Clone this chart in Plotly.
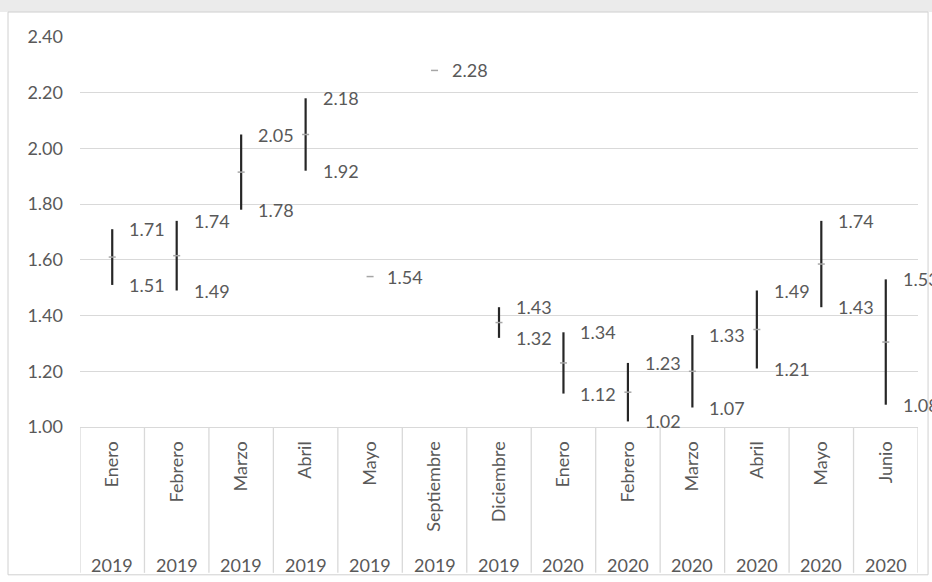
import plotly.graph_objects as go

months = ["Enero", "Febrero", "Marzo", "Abril", "Mayo", "Septiembre", "Diciembre",
          "Enero", "Febrero", "Marzo", "Abril", "Mayo", "Junio"]
years = ["2019", "2019", "2019", "2019", "2019", "2019", "2019",
         "2020", "2020", "2020", "2020", "2020", "2020"]
highs = [1.71, 1.74, 2.05, 2.18, 1.54, 2.28, 1.43, 1.34, 1.23, 1.33, 1.49, 1.74, 1.53]
lows = [1.51, 1.49, 1.78, 1.92, None, None, 1.32, 1.12, 1.02, 1.07, 1.21, 1.43, 1.08]
mids = [1.61, 1.615, 1.915, 2.05, 1.54, 2.28, 1.375, 1.23, 1.125, 1.20, 1.35, 1.585, 1.305]

FONT = "Lato"
TXT = "#595959"
GRID = "#d9d9d9"

xs = list(range(len(months)))

# high-low lines
lx, ly = [], []
for i, (h, l) in enumerate(zip(highs, lows)):
    if h is not None and l is not None:
        lx += [i, i, None]
        ly += [l, h, None]

fig = go.Figure()
fig.add_trace(go.Scatter(x=lx, y=ly, mode="lines",
                         line=dict(color="#262626", width=2.2),
                         hoverinfo="skip", showlegend=False))
fig.add_trace(go.Scatter(x=xs, y=mids, mode="markers",
                         marker=dict(symbol="line-ew", size=5, color="#a6a6a6",
                                     line=dict(color="#a6a6a6", width=1.5)),
                         showlegend=False))

annotations = []
for i, (h, l) in enumerate(zip(highs, lows)):
    for v in (h, l):
        if v is None:
            continue
        annotations.append(dict(x=i, y=v, xref="x", yref="y", text=f"{v:.2f}",
                                showarrow=False, xanchor="left", yanchor="middle",
                                xshift=15, font=dict(family=FONT, size=18, color=TXT)))
for i, yr in enumerate(years):
    annotations.append(dict(x=i, y=-0.354, xref="x", yref="paper", text=yr,
                            showarrow=False, xanchor="center", yanchor="middle",
                            font=dict(family=FONT, size=18, color=TXT)))

shapes = []
# background strip and frame
shapes.append(dict(type="rect", xref="paper", yref="paper", x0=-0.2, x1=1.2,
                   y0=1.064, y1=1.2, fillcolor="#ebebeb", line=dict(width=0), layer="below"))
shapes.append(dict(type="rect", xref="paper", yref="paper", x0=-0.0859, x1=1.012,
                   y0=-0.379, y1=1.064, fillcolor="rgba(0,0,0,0)",
                   line=dict(color="#d0d0d0", width=1), layer="below"))
for i in range(len(months) + 1):
    shapes.append(dict(type="line", xref="x", yref="paper", x0=i - 0.5, x1=i - 0.5,
                       y0=0, y1=-0.374, line=dict(color=GRID, width=1.3)))

fig.update_layout(
    width=932, height=582,
    margin=dict(l=80, r=14, t=37, b=155),
    paper_bgcolor="white", plot_bgcolor="white",
    font=dict(family=FONT, size=18, color=TXT),
    annotations=annotations, shapes=shapes,
    showlegend=False,
)
fig.update_xaxes(range=[-0.5, len(months) - 0.5], tickmode="array", tickvals=xs,
                 ticktext=months, tickangle=-90, showgrid=False, zeroline=False,
                 showline=True, linecolor=GRID, linewidth=1.3, ticks="",
                 tickfont=dict(family=FONT, size=18, color=TXT), ticklabelstandoff=6)
fig.update_yaxes(range=[1.0, 2.4], dtick=0.2, tick0=1.0, tickformat=".2f",
                 showgrid=True, gridcolor=GRID, gridwidth=1.3, zeroline=False,
                 showline=False, ticks="", ticklabelstandoff=16,
                 tickfont=dict(family=FONT, size=18, color=TXT))

fig.write_html("out.html")
